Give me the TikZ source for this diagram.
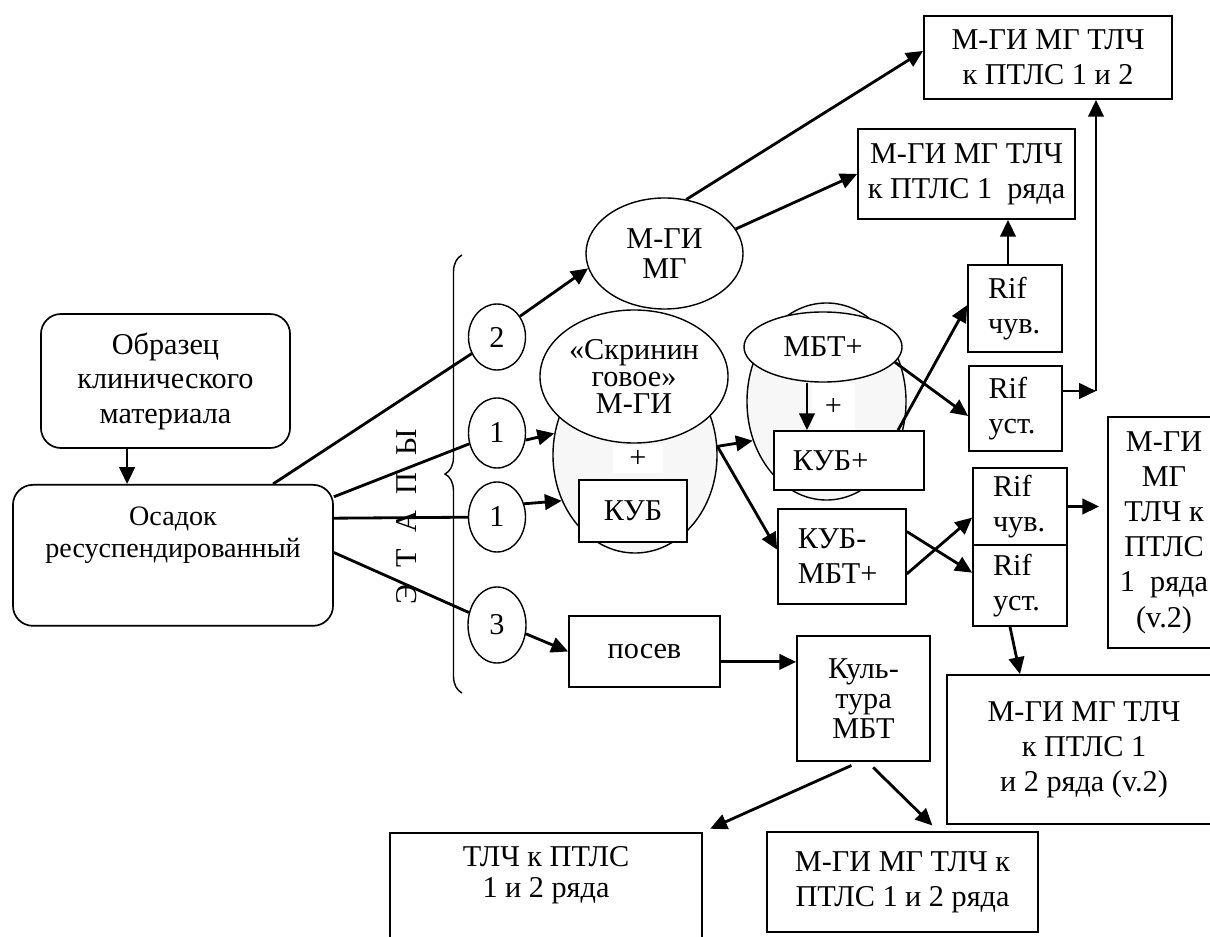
\documentclass[tikz,border=0pt]{standalone}
\usepackage{fontspec}
\setmainfont{Liberation Serif}
\usetikzlibrary{shapes.geometric}
\usetikzlibrary{arrows.meta}
\usetikzlibrary{decorations.pathreplacing}

\begin{document}
\begin{tikzpicture}[
        x=0.025cm, y=-0.025cm,
        every node/.style={font=\fontsize{21.5}{25}\selectfont},
        box/.style={rectangle,draw,line width=1.2pt,fill=white,align=center,inner sep=0pt},
        rbox/.style={box,rounded corners=0.5cm},
        oval/.style={ellipse,draw,line width=1pt,fill=white,align=center,inner sep=0pt},
        shadeoval/.style={ellipse,draw,line width=1pt,fill=gray!6},
        stage/.style={oval,minimum width=1.425cm},
        plusbg/.style={fill=white,inner sep=0pt},
        rifbox/.style={box,minimum width=2.35cm,text width=1.35cm,align=left},
        arr/.style={line width=2pt,-{Triangle[length=12pt,width=11pt]}},
        ln/.style={line width=2pt},
        ]
        \useasboundingbox (0,0) rectangle (1210,937);
        \clip (0,0) rectangle (1210,937);

        % sample
        \node[rbox,minimum width=6.225cm,minimum height=3.35cm,font=\fontsize{21.5}{24.5}\selectfont](obr) at (165.5,381){Образец\\клинического\\материала};
        \node[rbox,anchor=north,minimum width=8cm,inner ysep=0.55cm,text depth=1.15cm,font=\fontsize{20}{23}\selectfont](osad) at (173,484){Осадок\\ресуспендированный};

        % stages
        \draw[line width=1pt,decorate,decoration={brace,amplitude=0.425cm}] (462,693) -- (462,255);
        \node[rotate=90](etapy) at (407,517){Э \hspace{0.3em}Т \hspace{0.3em}А \hspace{0.3em}П \hspace{0.3em}Ы};
        \node[stage,minimum height=1.65cm](c2) at (497,337){2};
        \node[stage,minimum height=1.75cm](c1a) at (497,433){1};
        \node[stage,minimum height=1.75cm](c1b) at (497,517){1};
        \node[stage,minimum width=1.45cm,minimum height=1.9cm](c3) at (497,625){3};

        % screening
        \node[oval,minimum width=3.925cm,minimum height=2.775cm,font=\fontsize{21.5}{21}\selectfont](mgimg) at (664.5,253.5){М-ГИ\\МГ};
        \node[shadeoval,minimum width=4.1cm,minimum height=4.9cm](grey1) at (635,455){};
        \node[oval,minimum width=4.7cm,minimum height=3.325cm,font=\fontsize{21.5}{19.5}\selectfont](scr) at (634,376.5){«Скринин\\говое»\\М-ГИ};
        \node[plusbg,minimum width=1.25cm,minimum height=0.7cm](plus1) at (638,459){+};
        \node[box,minimum width=2.7cm,minimum height=1.55cm](kub) at (633,511){КУБ};

        \node[shadeoval,minimum width=3.975cm,minimum height=4.925cm](grey2) at (826.5,401.5){};
        \node[oval,minimum width=3.95cm,minimum height=1.75cm](mbt) at (823,347){МБТ+};
        \node[plusbg,minimum width=1.075cm,minimum height=1.175cm](plus2) at (833.5,406.5){+};
        \node[box,minimum width=3.75cm,minimum height=1.475cm,text width=2.8cm,align=left](kubp) at (849,460.5){КУБ+};
        \node[box,minimum width=3.2cm,minimum height=2.375cm,text width=2.2cm,align=left](kubmbt) at (842,556.5){КУБ-\\МБТ+};

        % rifampicin
        \node[rifbox,minimum height=2.175cm](rifc1) at (1015,308.5){Rif\\чув.};
        \node[rifbox,minimum width=2.325cm,minimum height=2.125cm](rifu1) at (1015.5,408.5){Rif\\уст.};
        \node[rifbox,minimum height=1.925cm](rifc2) at (1020,506.5){Rif\\чув.};
        \node[rifbox,minimum height=2.025cm](rifu2) at (1020,585.5){Rif\\уст.};

        % results
        \node[box,minimum width=6.2cm,minimum height=2.075cm](top) at (1048,57.5){М-ГИ МГ ТЛЧ\\к ПТЛС 1 и 2};
        \node[box,minimum width=5.425cm,minimum height=2.25cm](sec) at (966.5,174){М-ГИ МГ ТЛЧ\\к ПТЛС 1 \ ряда};
        \node[box,minimum width=2.8cm,minimum height=5.775cm](tall) at (1164,532.5){М-ГИ\\МГ\\ТЛЧ к\\ПТЛС\\1 \ ряда\\(v.2)};
        \node[box,minimum width=6.85cm,minimum height=3.725cm](brv2) at (1084,749.5){М-ГИ МГ ТЛЧ\\к ПТЛС 1\\и 2 ряда (v.2)};

        % culture
        \node[box,minimum width=3.775cm,minimum height=1.775cm](posev) at (644.5,651.5){посев};
        \node[box,minimum width=3.325cm,minimum height=3.125cm,font=\fontsize{21.5}{21.5}\selectfont](kult) at (863.5,698.5){Куль-\\тура\\МБТ};
        \node[box,anchor=north,minimum width=7.8cm,inner ysep=0.33cm,text depth=2cm,font=\fontsize{21.5}{22}\selectfont](bl) at (546,832){ТЛЧ к ПТЛС\\1 и 2 ряда};
        \node[box,minimum width=6.775cm,minimum height=2.5cm](bm) at (902.5,882){М-ГИ МГ ТЛЧ к\\ПТЛС 1 и 2 ряда};

        \draw[arr] ([xshift=-0.96cm]obr.south) -- ([xshift=-0.96cm]obr.south |- osad.north);
        \draw[ln] ([xshift=2.5cm]osad.north) -- (c2);
        \draw[arr] (c2.42) -- (mgimg.191);
        \draw[arr] (mgimg.68) -- (top.177);
        \draw[arr] (mgimg.19) -- (sec.west);
        \draw[ln] (osad.20) -- (c1a);
        \draw[arr] (c1a.346) -- (grey1.165);
        \draw[ln] (osad.13) -- (c1b);
        \draw[arr] (c1b.26) -- (grey1.212);
        \draw[ln] (osad.1) -- (c3);
        \draw[arr] (c3.343) -- (posev.west);

        \draw[arr] (grey1.6) -- (grey2.208);
        \draw[arr] (grey1.6) -- (kubmbt.174);
        \draw[arr] ([xshift=-0.4cm]mbt.south) -- ([xshift=-0.4cm]mbt.south |- kubp.north);
        \draw[arr] ([xshift=1.225cm]kubp.north) -- (rifc1.176);
        \draw[arr] (mbt.348) -- (rifu1.189);
        \coordinate (jn) at (1096,391);
        \draw[arr] (rifu1.east |- jn) -- (jn);
        \draw[arr] (jn) -- (jn |- top.south);
        \draw[arr] ([xshift=-0.175cm]rifc1.north) -- ([xshift=-0.175cm]rifc1.north |- sec.south);
        \draw[arr] (kubmbt.21) -- (rifu2.165);
        \draw[arr] (kubmbt.345) -- (rifc2.193);
        \draw[arr,shorten >=0.2cm] (rifc2.east) -- (rifc2.east -| tall.west);
        \draw[arr] ([xshift=-0.25cm]rifu2.south) -- (rifu2.south |- brv2.north);

        \draw[arr] ([yshift=-0.26cm]posev.east) -- ([yshift=-0.26cm]posev.east -| kult.west);
        \draw[arr,shorten <=0.22cm,shorten >=0.2cm] ([xshift=-0.1cm]kult.south) -- (bl.north east);
        \draw[arr,shorten <=0.2cm,shorten >=0.2cm] ([xshift=0.1cm]kult.south) -- ([xshift=0.89cm]bm.north);
\end{tikzpicture}
\end{document}
